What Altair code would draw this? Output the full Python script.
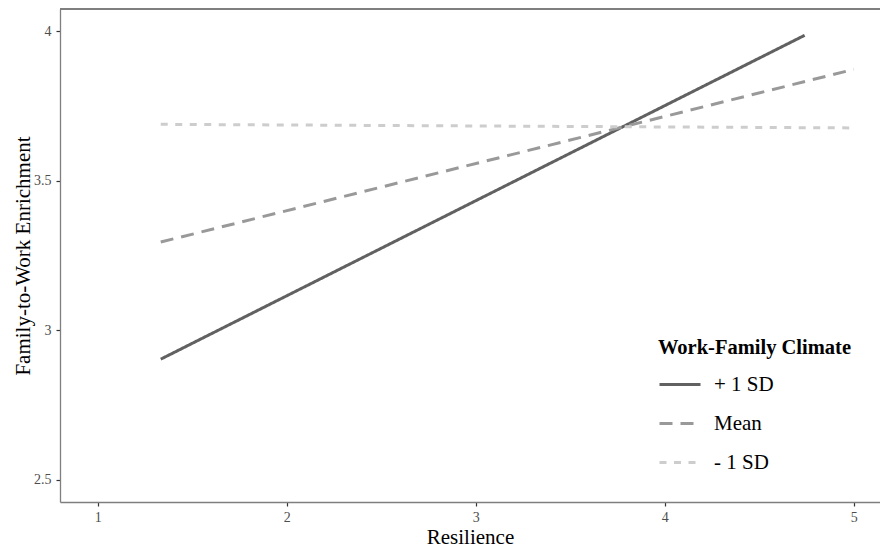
import altair as alt
import pandas as pd

groups = ["+ 1 SD", "Mean", "- 1 SD"]
x_start = [1.333, 1.333, 1.333]
x_end = [4.74, 5.0, 5.0]
y_start = [2.903, 3.295, 3.689]
y_end = [3.987, 3.873, 3.677]
x_ticks = [1, 2, 3, 4, 5]
y_ticks = [2.5, 3, 3.5, 4]

colors = ["#616161", "#999999", "#cdcdcd"]
dashes = [[1, 0], [13, 8], [7, 7.5]]

rows = []
for g, xs, xe, ys, ye in zip(groups, x_start, x_end, y_start, y_end):
    rows.append({"Resilience": xs, "FWE": ys, "Climate": g})
    rows.append({"Resilience": xe, "FWE": ye, "Climate": g})
df = pd.DataFrame(rows)

W, H = 820, 493
FONT = "Liberation Serif"
BORDER = "#7f7f7f"

legend = alt.Legend(
    title="Work-Family Climate",
    orient="none",
    legendX=598,
    legendY=329,
    titleFont=FONT,
    titleFontSize=20.5,
    titleFontWeight="bold",
    titleColor="black",
    titlePadding=4,
    titleLimit=400,
    labelFont=FONT,
    labelFontSize=21,
    labelColor="black",
    labelLimit=300,
    symbolType="stroke",
    symbolSize=1681,
    symbolStrokeWidth=3,
    labelOffset=12,
    rowPadding=7,
    padding=0,
)

lines = alt.Chart(df).mark_line(strokeWidth=3, strokeCap="butt").encode(
    x=alt.X(
        "Resilience:Q",
        scale=alt.Scale(domain=[0.8, 0.8 + W / 189.0], nice=False, zero=False),
        axis=alt.Axis(values=x_ticks, title="Resilience", format="~g"),
    ),
    y=alt.Y(
        "FWE:Q",
        scale=alt.Scale(domain=[2.425, 4.075], nice=False, zero=False),
        axis=alt.Axis(values=y_ticks, title="Family-to-Work Enrichment", format="~g"),
    ),
    color=alt.Color("Climate:N", scale=alt.Scale(domain=groups, range=colors), legend=legend),
    strokeDash=alt.StrokeDash("Climate:N", scale=alt.Scale(domain=groups, range=dashes), legend=legend),
    detail="Climate:N",
)

top_border = alt.Chart(df).mark_rule(color=BORDER, strokeWidth=1.3).encode(
    x=alt.value(0), x2=alt.value(W), y=alt.value(0)
)

chart = (
    alt.layer(lines, top_border)
    .properties(
        width=W,
        height=H,
        autosize=alt.AutoSizeParams(type="none"),
        padding={"left": 52, "top": 1, "right": 0, "bottom": 46},
    )
    .configure_view(stroke=None)
    .configure_axis(
        grid=False,
        domainColor=BORDER,
        domainWidth=1.3,
        tickColor="#333333",
        tickSize=4,
        tickWidth=1.2,
        labelFont=FONT,
        labelFontSize=14,
        labelColor="#4d4d4d",
        labelPadding=4,
        titleFont=FONT,
        titleFontSize=21,
        titleFontWeight="normal",
        titleColor="black",
    )
    .configure_axisX(titlePadding=2)
    .configure_axisY(titlePadding=0, labelPadding=5)
)

chart.save("out.html", embed_options={"renderer": "svg", "actions": False})
